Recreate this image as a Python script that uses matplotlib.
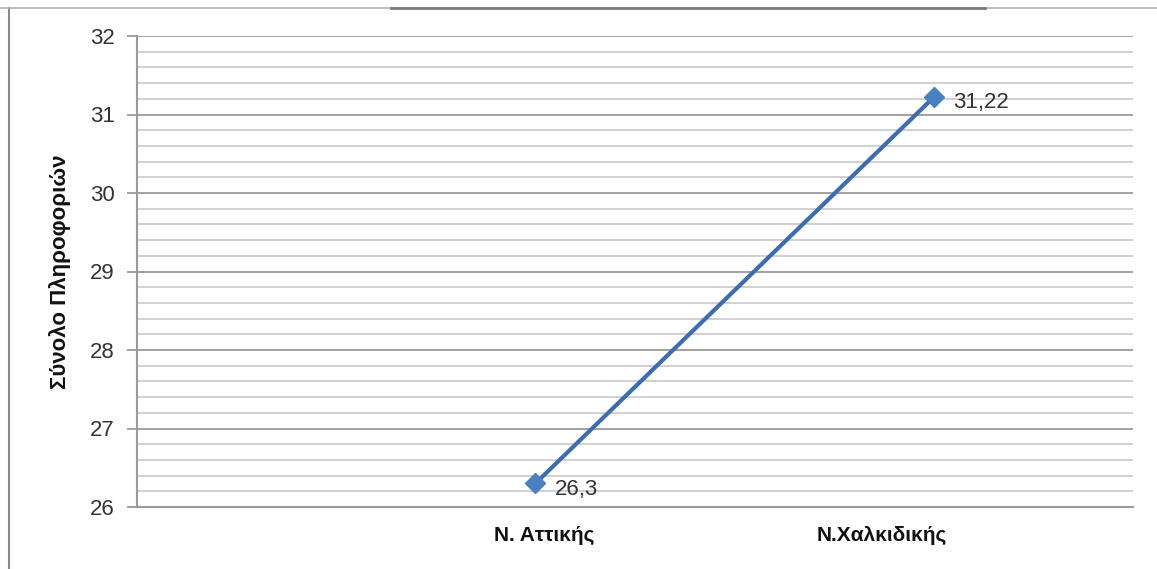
import matplotlib
matplotlib.use("Agg")
import matplotlib.pyplot as plt
from matplotlib.ticker import MultipleLocator
import matplotlib.transforms as mtransforms
from matplotlib.lines import Line2D

categories = ["N. Αττικής", "N.Χαλκιδικής"]
values = [26.3, 31.22]
value_labels = ["26,3", "31,22"]
y_ticks = [26, 27, 28, 29, 30, 31, 32]
y_label = "Σύνολο Πληροφοριών"

plt.rcParams['font.family'] = ['Liberation Sans Narrow', 'Liberation Sans', 'DejaVu Sans']

W, H = 1157, 569
fig = plt.figure(figsize=(W / 100, H / 100), dpi=100)
ax = fig.add_axes([137 / W, 1 - 507 / H, (1133 - 137) / W, (507 - 36) / H])

x = [i + 1 for i in range(len(categories))]
ax.plot(x, values, color="#3d6db0", lw=3, marker="D", ms=10,
        markerfacecolor="#4a7fc0", markeredgecolor="#4a7fc0", zorder=3, clip_on=False)
for xi, v, lab in zip(x, values, value_labels):
    ax.annotate(lab, (xi, v), xytext=(14, -4), textcoords="offset points",
                ha="left", va="center", fontsize=16, color="#333333")

ax.set_xlim(0, 2.5)
ax.set_ylim(26, 32)
ax.set_yticks(y_ticks)
ax.yaxis.set_minor_locator(MultipleLocator(0.2))
ax.grid(which="major", axis="y", color="#9a9a9a", lw=1.3)
ax.grid(which="minor", axis="y", color="#c4c4c4", lw=1.1)
ax.set_axisbelow(True)

for s in ["top", "right"]:
    ax.spines[s].set_visible(False)
ax.spines["left"].set_color("#9a9a9a")
ax.spines["left"].set_linewidth(1.5)
ax.spines["bottom"].set_color("#9a9a9a")
ax.spines["bottom"].set_linewidth(1.5)

ax.tick_params(axis="y", which="major", length=7, width=1.3, color="#9a9a9a",
               labelsize=16, pad=9, labelcolor="#333333")
ax.tick_params(axis="y", which="minor", length=0)
ax.set_xticks(x)
ax.set_xticklabels(categories, fontsize=15, fontweight="bold", color="#111111")
ax.tick_params(axis="x", length=0, pad=14)
offsets = [9, -52]
for lbl, dx in zip(ax.get_xticklabels(), offsets):
    lbl.set_transform(lbl.get_transform() + mtransforms.ScaledTranslation(dx / 100, 0, fig.dpi_scale_trans))

fig.text(60 / W, 1 - 272 / H, y_label, rotation=90, ha="center", va="center",
         fontsize=16, fontweight="bold", color="#111111")

# outer frame fragments
fig.add_artist(Line2D([9 / W, 9 / W], [0, 1 - 8 / H], color="#8a8a8a", lw=1.5))
fig.add_artist(Line2D([0, 1], [1 - 8 / H, 1 - 8 / H], color="#b0b0b0", lw=1.2))
fig.add_artist(Line2D([391 / W, 985 / W], [1 - 8 / H, 1 - 8 / H], color="#7a7a7a", lw=2))

fig.savefig("out.png", dpi=100)
